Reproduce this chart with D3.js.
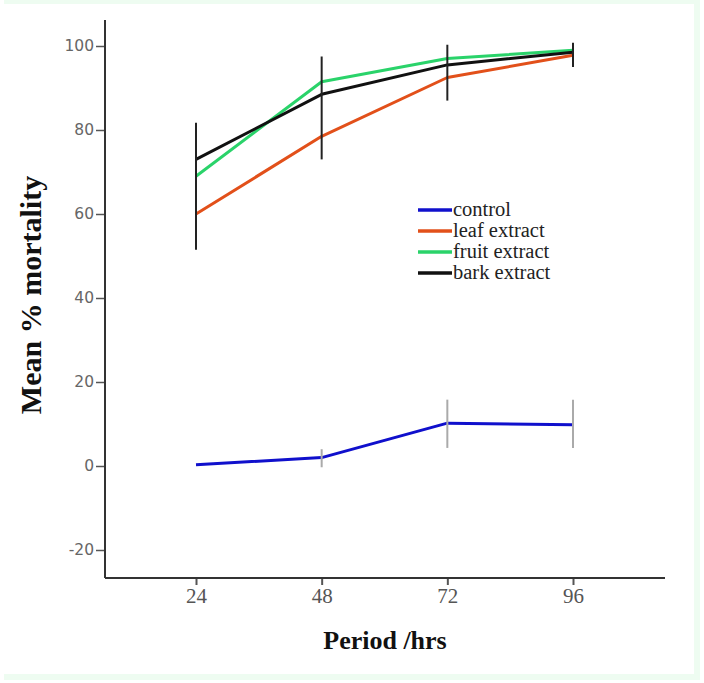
<!DOCTYPE html>
<html><head><meta charset="utf-8">
<script src="https://cdn.jsdelivr.net/npm/d3@7"></script>
<style>body{margin:0;background:#fff}</style>
</head><body>
<script>
const periods = [24, 48, 72, 96];
const seriesNames = ["control", "leaf extract", "fruit extract", "bark extract"];
const controlVals = [0.3, 2.0, 10.2, 9.8];
const leafVals = [60.0, 78.5, 92.5, 97.8];
const fruitVals = [69.0, 91.5, 97.0, 99.0];
const barkVals = [73.0, 88.5, 95.5, 98.5];
const extractErrLow = [51.5, 73.0, 87.0, 95.0];
const extractErrHigh = [81.7, 97.5, 100.3, 100.8];
const controlErrLow = [null, -0.3, 4.3, 4.3];
const controlErrHigh = [null, 4.0, 15.8, 15.8];
const yTicks = [-20, 0, 20, 40, 60, 80, 100];
const colors = ["#1010cc", "#e2501a", "#2ad36a", "#111111"];

const W = 704, H = 683;
const svg = d3.select("body").append("svg").attr("width", W).attr("height", H);
svg.append("rect").attr("x", 4).attr("y", 0).attr("width", 696).attr("height", 680).attr("fill", "#eefcf1");
svg.append("rect").attr("x", 4).attr("y", 4).attr("width", 690).attr("height", 670).attr("fill", "#fff");

const x = d3.scaleLinear().domain([24, 96]).range([196, 573]);
const y = d3.scaleLinear().domain([0, 100]).range([466, 46]);
const xMin = x.invert(105), xMax = x.invert(665);
const yMin = y.invert(578), yMax = y.invert(20);

// axes
const yAxis = d3.axisLeft(y).tickValues(yTicks).tickSize(9).tickPadding(2).tickFormat(d => String(d).replace("\u2212", "-"));
const gy = svg.append("g").attr("transform", "translate(105,0)").call(yAxis);
gy.select(".domain").remove();
gy.selectAll(".tick line").attr("stroke", "#555").attr("stroke-width", 1.5);
gy.selectAll(".tick text").attr("fill", "#666").style("font-family", "'DejaVu Sans',sans-serif").style("font-size", "15.5px");
svg.append("line").attr("x1", 105).attr("x2", 105).attr("y1", y(yMax)).attr("y2", y(yMin)).attr("stroke", "#333").attr("stroke-width", 2);

const xAxis = d3.axisBottom(x).tickValues(periods).tickSize(7).tickPadding(3);
const gx = svg.append("g").attr("transform", "translate(0,578)").call(xAxis);
gx.select(".domain").remove();
gx.selectAll(".tick line").attr("stroke", "#555").attr("stroke-width", 2);
gx.selectAll(".tick text").attr("fill", "#555").style("font-family", "'Liberation Serif','Times New Roman',serif").style("font-size", "21px");
svg.append("line").attr("x1", x(xMin)).attr("x2", x(xMax)).attr("y1", 578).attr("y2", 578).attr("stroke", "#333").attr("stroke-width", 2);

// titles
svg.append("text").attr("x", 385).attr("y", 649).attr("text-anchor", "middle")
  .style("font-family", "'Liberation Serif','Times New Roman',serif").style("font-weight", "bold").style("font-size", "26px")
  .attr("fill", "#111").text("Period /hrs");
svg.append("text").attr("transform", "translate(41,295) rotate(-90)").attr("text-anchor", "middle")
  .style("font-family", "'Liberation Serif','Times New Roman',serif").style("font-weight", "bold").style("font-size", "30px")
  .attr("fill", "#111").text("Mean % mortality");

// lines
const allVals = [controlVals, leafVals, fruitVals, barkVals];
const line = d3.line().x((d, i) => x(periods[i])).y(d => y(d));
allVals.forEach((vals, k) => {
  svg.append("path").datum(vals).attr("d", line).attr("fill", "none")
    .attr("stroke", colors[k]).attr("stroke-width", 3).attr("stroke-linejoin", "round");
});

// error bars
periods.forEach((p, i) => {
  svg.append("line").attr("x1", x(p)).attr("x2", x(p)).attr("y1", y(extractErrHigh[i])).attr("y2", y(extractErrLow[i]))
    .attr("stroke", "#222").attr("stroke-width", 2);
  if (controlErrLow[i] !== null) {
    svg.append("line").attr("x1", x(p)).attr("x2", x(p)).attr("y1", y(controlErrHigh[i])).attr("y2", y(controlErrLow[i]))
      .attr("stroke", "#aaa").attr("stroke-width", 2);
  }
});

// legend
const lg = svg.append("g").attr("transform", "translate(418,210)");
seriesNames.forEach((n, k) => {
  const g = lg.append("g").attr("transform", `translate(0,${k * 21})`);
  g.append("line").attr("x1", 0).attr("x2", 34).attr("y1", 0).attr("y2", 0).attr("stroke", colors[k]).attr("stroke-width", 3.5);
  g.append("text").attr("x", 35).attr("y", 6).attr("fill", "#222")
    .style("font-family", "'Liberation Serif','Times New Roman',serif").style("font-size", "20.5px").text(n);
});
</script>
</body></html>
